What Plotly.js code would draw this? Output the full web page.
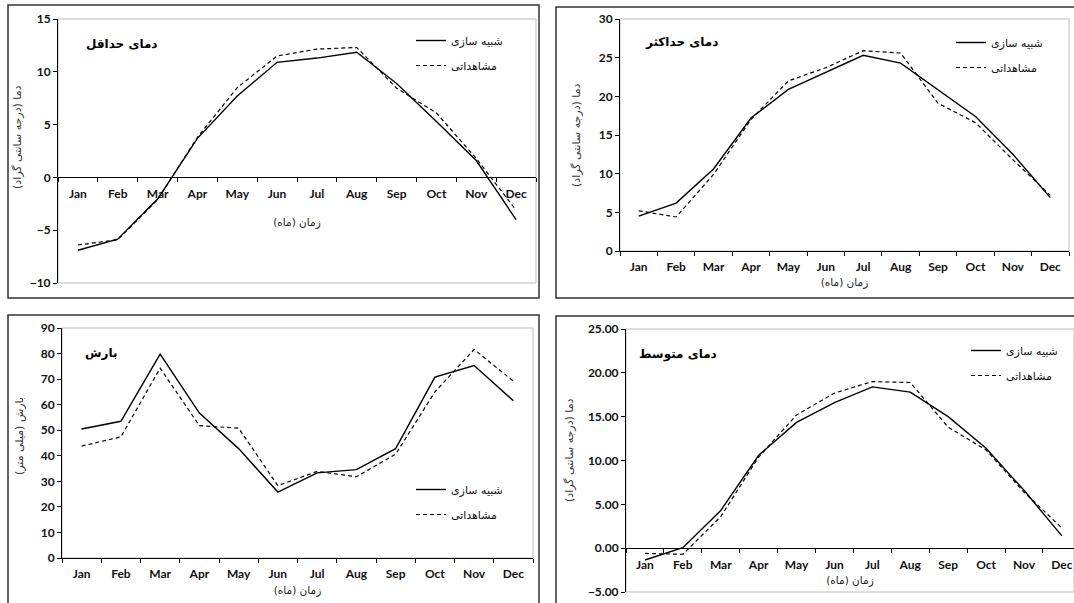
<!DOCTYPE html>
<html>
<head>
<meta charset="utf-8">
<script src="https://cdn.plot.ly/plotly-3.0.1.min.js"></script>
<style>html,body{margin:0;padding:0;background:#fff;}#chart{width:1074px;height:603px;}</style>
</head>
<body>
<div id="chart"></div>
<script>
const months = ["Jan","Feb","Mar","Apr","May","Jun","Jul","Aug","Sep","Oct","Nov","Dec"];
const seriesNames = ["شبیه سازی", "مشاهداتی"];
const panelTitles = ["دمای حداقل", "دمای حداکثر", "بارش", "دمای متوسط"];
const tempAxisTitle = "دما (درجه سانتی گراد)";
const precAxisTitle = "بارش (میلی متر)";
const timeAxisTitle = "زمان (ماه)";

const minSim = [-6.9, -5.85, -2.05, 3.7, 7.7, 10.9, 11.3, 11.85, 8.9, 5.3, 1.6, -4.0];
const minObs = [-6.4, -5.9, -2.1, 3.8, 8.5, 11.5, 12.15, 12.3, 8.45, 6.1, 1.8, -3.1];
const maxSim = [4.5, 6.2, 10.6, 17.2, 20.9, 23.1, 25.3, 24.3, 20.9, 17.4, 12.5, 6.9];
const maxObs = [5.2, 4.4, 9.9, 17.0, 22.0, 23.7, 25.9, 25.6, 19.1, 16.6, 11.8, 7.2];
const precSim = [50.5, 53.5, 79.8, 56.7, 42.8, 25.8, 33.3, 34.6, 42.8, 70.8, 75.3, 61.5];
const precObs = [43.8, 47.4, 74.3, 51.8, 50.8, 28.3, 33.9, 31.8, 40.6, 65.0, 81.6, 69.2];
const avgSim = [-1.35, 0.05, 4.3, 10.6, 14.35, 16.6, 18.4, 17.8, 15.0, 11.4, 6.6, 1.4];
const avgObs = [-0.6, -0.7, 3.6, 10.4, 15.2, 17.7, 19.0, 18.9, 13.8, 11.2, 6.4, 2.3];

const W = 1074, H = 603;
const fx = p => p / W;
const fy = p => 1 - p / H;

const latin = "Lato, 'DejaVu Sans', sans-serif";
const persian = "'DejaVu Sans', sans-serif";

// panel geometry (pixels)
const panels = [
  {sim: minSim, obs: minObs, x0: 58, x1: 536, y0: 19, y1: 283, yr: [-10, 15], dt: 5, fmt: "", cross: true, xr: [-0.5, 11.5],
   ytitle: tempAxisTitle, ypos: [18, 137], xstand: 18, frame: [8, 5, 539, 298], title: panelTitles[0], tpos: [84, 44], leg: [508, 26]},
  {sim: maxSim, obs: maxObs, x0: 620, x1: 1069, y0: 19, y1: 251, yr: [0, 30], dt: 5, fmt: "", cross: false, xr: [-0.5, 11.5],
   ytitle: tempAxisTitle, ypos: [576, 135], xstand: 5, frame: [556, 7, 1080, 298], title: panelTitles[1], tpos: [643, 42], leg: [1048, 28]},
  {sim: precSim, obs: precObs, x0: 62, x1: 533, y0: 328, y1: 558, yr: [0, 90], dt: 10, fmt: "", cross: false, xr: [-0.5, 11.5],
   ytitle: precAxisTitle, ypos: [19, 436], xstand: 6, frame: [8, 315, 539, 610], title: panelTitles[2], tpos: [83, 353], leg: [508, 475]},
  {sim: avgSim, obs: avgObs, x0: 626, x1: 1074, y0: 329, y1: 592, yr: [-5, 25], dt: 5, fmt: ".2f", cross: true, xr: [-0.5, 11.32],
   ytitle: tempAxisTitle, ypos: [569, 450], xstand: 6, frame: [556, 316, 1080, 610], title: panelTitles[3], tpos: [637, 354], leg: [1063, 336]}
];

const data = [];
const layout = {
  width: W, height: H,
  margin: {l: 0, r: 0, t: 0, b: 0},
  paper_bgcolor: "#fff", plot_bgcolor: "#fff",
  showlegend: true,
  shapes: [], annotations: []
};

panels.forEach((p, i) => {
  const n = i + 1;
  const xa = "xaxis" + (n === 1 ? "" : n), ya = "yaxis" + (n === 1 ? "" : n);
  const xr = "x" + (n === 1 ? "" : n), yr = "y" + (n === 1 ? "" : n);
  const lg = "legend" + (n === 1 ? "" : n);
  const ydom = [fy(p.y1), fy(p.y0)];
  const xdom = [fx(p.x0), Math.min(1, fx(p.x1))];
  const common = {x: months, xaxis: xr, yaxis: yr, mode: "lines", legend: lg};
  data.push(Object.assign({}, common, {y: p.sim, name: seriesNames[0], legendgroup: "s" + n,
    line: {color: "#000", width: 1.4}}));
  data.push(Object.assign({}, common, {y: p.obs, name: seriesNames[1], legendgroup: "o" + n,
    line: {color: "#000", width: 1.2, dash: "4px,3px"}}));

  const xaxis = {
    domain: xdom, range: p.xr, type: "category", categoryarray: months,
    showline: true, linecolor: "#000", linewidth: 1,
    ticks: "outside", ticklen: 4, tickcolor: "#000", tickson: "boundaries",
    ticklabelstandoff: 5,
    showgrid: false, zeroline: false,
    tickfont: {family: latin, size: 12, color: "#111", weight: "bold"},
    title: {text: timeAxisTitle, font: {family: persian, size: 10.5, color: "#222"}, standoff: p.xstand}
  };
  if (p.cross) {
    xaxis.anchor = "free";
    xaxis.position = ydom[0] + (0 - p.yr[0]) / (p.yr[1] - p.yr[0]) * (ydom[1] - ydom[0]);
  } else {
    xaxis.anchor = yr;
  }
  layout[xa] = xaxis;
  layout[ya] = {
    domain: ydom, range: p.yr, dtick: p.dt, tick0: 0, tickformat: p.fmt, anchor: xr,
    showline: true, linecolor: "#000", linewidth: 1,
    ticks: "outside", ticklen: 4, tickcolor: "#000",
    showgrid: false, zeroline: false,
    tickfont: {family: latin, size: 12, color: "#111", weight: "bold"}
  };
  layout[lg] = {
    x: fx(p.leg[0]), y: fy(p.leg[1]), xanchor: "right", yanchor: "top",
    bgcolor: "rgba(0,0,0,0)", borderwidth: 0,
    font: {family: persian, size: 11, color: "#111"},
    traceorder: "grouped", tracegroupgap: 6
  };
  // plot area border
  layout.shapes.push({type: "rect", xref: xr + " domain", yref: yr + " domain", x0: 0, x1: 1, y0: 0, y1: 1,
    line: {color: "#bdbdbd", width: 1}, layer: "below"});
  // outer frame
  layout.shapes.push({type: "rect", xref: "paper", yref: "paper",
    x0: fx(p.frame[0]), x1: fx(p.frame[2]), y0: fy(p.frame[3]), y1: fy(p.frame[1]),
    line: {color: "#333", width: 1.5}, layer: "below"});
  layout.annotations.push({text: "<b>" + p.title + "</b>", xref: "paper", yref: "paper",
    x: fx(p.tpos[0]), y: fy(p.tpos[1]), xanchor: "left", yanchor: "middle", showarrow: false,
    font: {family: persian, size: 12, color: "#000"}});
  // y-axis title
  layout.annotations.push({text: p.ytitle, xref: "paper", yref: "paper", textangle: -90,
    x: fx(p.ypos[0]), y: fy(p.ypos[1]), xanchor: "center", yanchor: "middle", showarrow: false,
    font: {family: persian, size: 11, color: "#333"}});
});

Plotly.newPlot("chart", data, layout, {displayModeBar: false, staticPlot: true});
</script>
</body>
</html>
